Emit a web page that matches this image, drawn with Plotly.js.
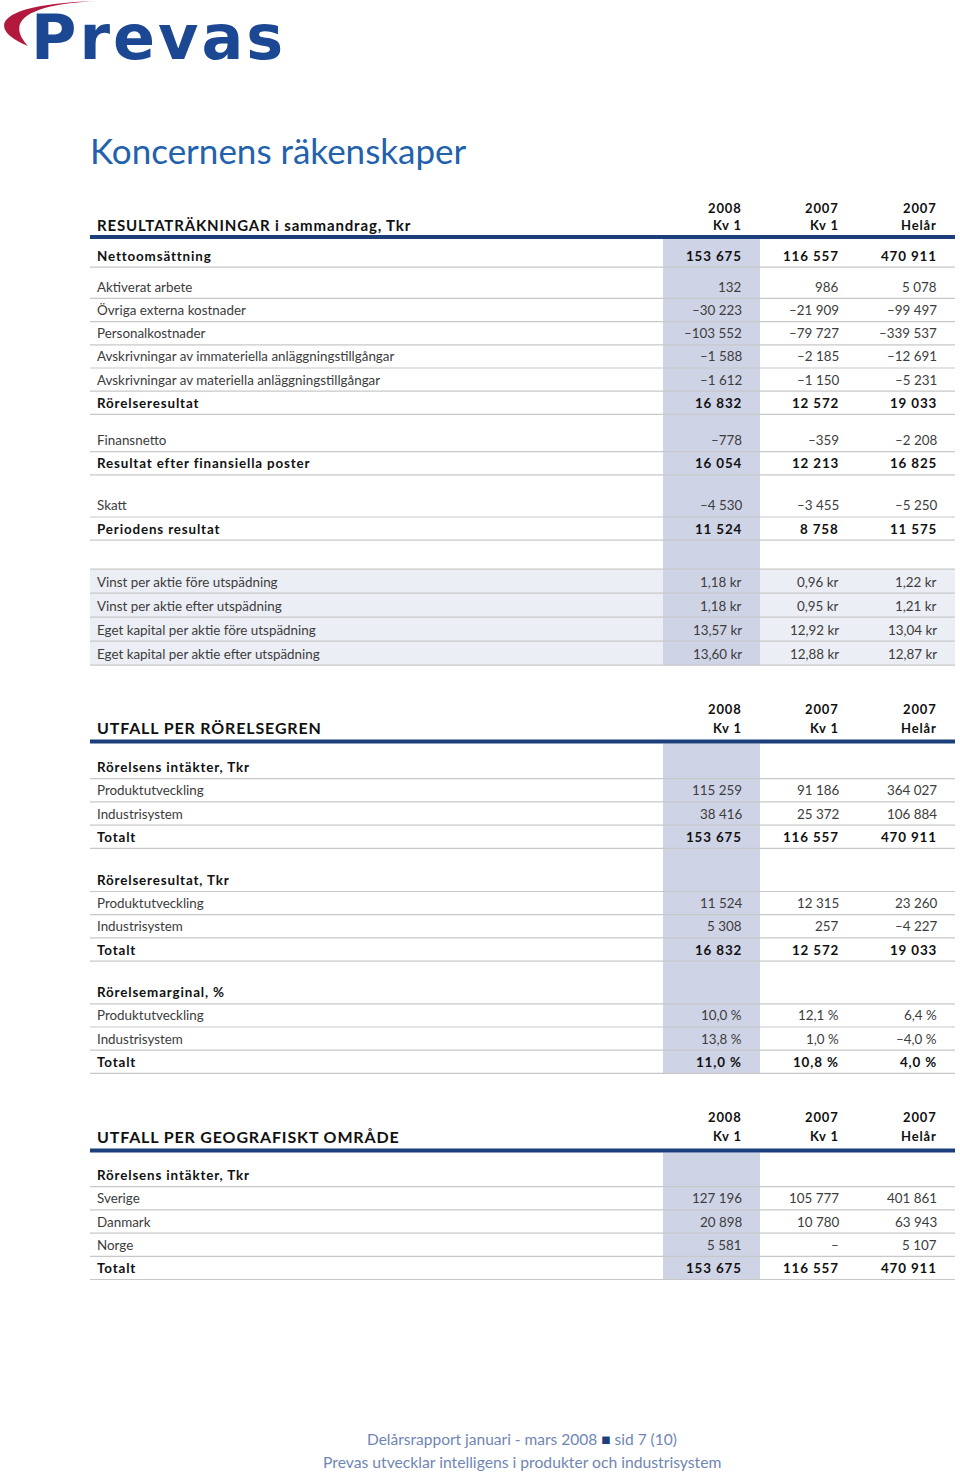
<!DOCTYPE html>
<html><head><meta charset="utf-8">
<script src="https://cdn.plot.ly/plotly-3.0.1.min.js"></script>
<style>
html,body{margin:0;padding:0;background:#fff}
#chart{width:960px;height:1472px}
text[style*="font-weight: 700"]{letter-spacing:0.85px}
text[style*="DejaVu"]{letter-spacing:3px}
</style>
</head><body><div id="chart"></div>
<script>
// ---------- DATA ----------
const colYears = ["2008", "2007", "2007"];
const colPeriods = ["Kv 1", "Kv 1", "Helår"];

const resTitle = "RESULTATRÄKNINGAR i sammandrag, Tkr";
const resLabels = ["Nettoomsättning", "Aktiverat arbete", "Övriga externa kostnader", "Personalkostnader",
  "Avskrivningar av immateriella anläggningstillgångar", "Avskrivningar av materiella anläggningstillgångar",
  "Rörelseresultat", "Finansnetto", "Resultat efter finansiella poster", "Skatt", "Periodens resultat"];
const res2008Q1 = [153675, 132, -30223, -103552, -1588, -1612, 16832, -778, 16054, -4530, 11524];
const res2007Q1 = [116557, 986, -21909, -79727, -2185, -1150, 12572, -359, 12213, -3455, 8758];
const res2007FY = [470911, 5078, -99497, -339537, -12691, -5231, 19033, -2208, 16825, -5250, 11575];
const resSubtotal = [true, false, false, false, false, false, true, false, true, false, true];

const shareLabels = ["Vinst per aktie före utspädning", "Vinst per aktie efter utspädning",
  "Eget kapital per aktie före utspädning", "Eget kapital per aktie efter utspädning"];
const share2008Q1 = [1.18, 1.18, 13.57, 13.60];
const share2007Q1 = [0.96, 0.95, 12.92, 12.88];
const share2007FY = [1.22, 1.21, 13.04, 12.87];

const segTitle = "UTFALL PER RÖRELSEGREN";
const segGroups = ["Rörelsens intäkter, Tkr", "Rörelseresultat, Tkr", "Rörelsemarginal, %"];
const segNames = ["Produktutveckling", "Industrisystem", "Totalt"];
const segRev2008Q1 = [115259, 38416, 153675];
const segRev2007Q1 = [91186, 25372, 116557];
const segRev2007FY = [364027, 106884, 470911];
const segEbit2008Q1 = [11524, 5308, 16832];
const segEbit2007Q1 = [12315, 257, 12572];
const segEbit2007FY = [23260, -4227, 19033];
const segMargin2008Q1 = [10.0, 13.8, 11.0];
const segMargin2007Q1 = [12.1, 1.0, 10.8];
const segMargin2007FY = [6.4, -4.0, 4.0];

const geoTitle = "UTFALL PER GEOGRAFISKT OMRÅDE";
const geoGroup = "Rörelsens intäkter, Tkr";
const geoNames = ["Sverige", "Danmark", "Norge", "Totalt"];
const geo2008Q1 = [127196, 20898, 5581, 153675];
const geo2007Q1 = [105777, 10780, null, 116557];
const geo2007FY = [401861, 63943, 5107, 470911];

const pageTitle = "Koncernens räkenskaper";
const logoText = "Prevas";
const footerLine1 = "Delårsrapport januari - mars 2008";
const footerPage = "sid 7 (10)";
const footerLine2 = "Prevas utvecklar intelligens i produkter och industrisystem";

// ---------- FORMATTING ----------
function grp(n) { return n.replace(/\B(?=(\d{3})+(?!\d))/g, " "); }
function fInt(v) { if (v === null || v === undefined) return "–"; return (v < 0 ? "–" : "") + grp(Math.abs(v).toString()); }
function fKr(v) { return Math.abs(v).toFixed(2).replace(".", ",") + " kr"; }
function fPct(v) { return (v < 0 ? "–" : "") + Math.abs(v).toFixed(1).replace(".", ",") + " %"; }

// ---------- STYLE / LAYOUT ----------
const FONT = "Lato, 'Open Sans', sans-serif";
const BLUE = "#1b3f7a", HL = "#cfd3e6", BAND = "#eceef5", RULE = "#c8c8c8";
const X0 = 90, X1 = 955, LX = 97, COLX = [742, 839, 937], HLX = [663, 760];
const ROW = 23.2;
const NSIZE = 13.4, BSIZE = 13.4;

const shapes = [], ann = [];
function txt(x, y, t, anchor, size, color, weight, fam) {
  ann.push({x: x, y: y, xref: "x", yref: "y", text: t, showarrow: false, xanchor: anchor, yanchor: "middle",
    borderpad: 0, borderwidth: 0,
    font: {family: fam || FONT, size: size, color: color, weight: weight || 400}});
}
function hline(y, color, w) {
  shapes.push({type: "line", xref: "x", yref: "y", x0: X0, x1: X1, y0: y, y1: y, line: {color: color, width: w}});
}
function rect(x0, x1, y0, y1, color) {
  shapes.push({type: "rect", xref: "x", yref: "y", x0: x0, x1: x1, y0: y0, y1: y1, fillcolor: color, line: {width: 0}});
}

function section(title, titleSize, thickY, hdrOff, blocks) {
  const bgShapes = [], lines = [];
  txt(LX, thickY - hdrOff[1], title, "left", titleSize, "#111", 700);
  for (let c = 0; c < 3; c++) {
    txt(COLX[c], thickY - hdrOff[0], colYears[c], "right", 13, "#111", 700);
    txt(COLX[c], thickY - hdrOff[1], colPeriods[c], "right", 13, "#111", 700);
  }
  let y = thickY + 2;
  const top = y;
  blocks.forEach(b => {
    y += b.gap;
    const rh = b.rowH || ROW;
    if (b.band) {
      bgShapes.push([y, y + rh * b.rows.length]);
      lines.push(y);
    }
    b.rows.forEach(r => {
      const bottom = y + rh;
      const cy = bottom - 11.6;
      const bold = r.kind !== "normal";
      const col = bold ? "#111" : "#3c3c3c", w = bold ? 700 : 400, sz = bold ? BSIZE : NSIZE;
      txt(LX, cy, r.label, "left", sz, col, w);
      if (r.vals) r.vals.forEach((v, c) => txt(COLX[c], cy, v, "right", sz, col, w));
      lines.push(bottom);
      y = bottom;
    });
  });
  bgShapes.forEach(s => rect(X0, X1, s[0], s[1], BAND));
  rect(HLX[0], HLX[1], top, y, HL);
  lines.forEach(l => hline(l, RULE, 1.2));
  hline(thickY, BLUE, 4);
}

// Section 1
const s1rows = resLabels.map((l, i) => ({label: l, kind: resSubtotal[i] ? "bold" : "normal",
  vals: [fInt(res2008Q1[i]), fInt(res2007Q1[i]), fInt(res2007FY[i])]}));
const s1share = shareLabels.map((l, i) => ({label: l, kind: "normal",
  vals: [fKr(share2008Q1[i]), fKr(share2007Q1[i]), fKr(share2007FY[i])]}));
section(resTitle, 15, 237, [29, 12], [
  {gap: 5, rows: s1rows.slice(0, 1)},
  {gap: 8, rows: s1rows.slice(1, 7)},
  {gap: 14, rows: s1rows.slice(7, 9)},
  {gap: 19, rows: s1rows.slice(9, 11)},
  {gap: 29, rows: s1share, band: true, rowH: 24}
]);

// Section 2
function segBlock(group, a, b, c, f) {
  return [{label: group, kind: "sub", vals: null}].concat(segNames.map((n, i) => ({
    label: n, kind: i === segNames.length - 1 ? "bold" : "normal", vals: [f(a[i]), f(b[i]), f(c[i])]})));
}
section(segTitle, 16, 741.5, [32.5, 14], [
  {gap: 12, rows: segBlock(segGroups[0], segRev2008Q1, segRev2007Q1, segRev2007FY, fInt)},
  {gap: 20, rows: segBlock(segGroups[1], segEbit2008Q1, segEbit2007Q1, segEbit2007FY, fInt)},
  {gap: 19.5, rows: segBlock(segGroups[2], segMargin2008Q1, segMargin2007Q1, segMargin2007FY, fPct)}
]);

// Section 3
const geoRows = [{label: geoGroup, kind: "sub", vals: null}].concat(geoNames.map((n, i) => ({
  label: n, kind: i === geoNames.length - 1 ? "bold" : "normal", vals: [fInt(geo2008Q1[i]), fInt(geo2007Q1[i]), fInt(geo2007FY[i])]})));
section(geoTitle, 16, 1150.5, [33.5, 14.5], [{gap: 11, rows: geoRows}]);

// Title
txt(90, 150, pageTitle, "left", 35, "#2262ad", 400);

// Logo
shapes.push({type: "path", xref: "x", yref: "y", path: "M 28 46 C -12 30, -10 4, 98 1 C 30 4, 4 20, 28 46 Z",
  fillcolor: "#b3183d", line: {width: 0}});
txt(31, 37, logoText, "left", 62, "#1b4793", 700, "'DejaVu Sans', sans-serif");

// Footer
txt(522, 1439, footerLine1 + ' <span style="color:' + BLUE + '">■</span> ' + footerPage, "center", 15.5, "#6f86b3", 400);
txt(522, 1462, footerLine2, "center", 15.7, "#6f86b3", 400);

Plotly.newPlot("chart", [{type: "scatter", x: [], y: [], hoverinfo: "skip"}], {
  width: 960, height: 1472, margin: {l: 0, r: 0, t: 0, b: 0},
  paper_bgcolor: "#fff", plot_bgcolor: "#fff", showlegend: false,
  xaxis: {range: [0, 960], visible: false, fixedrange: true},
  yaxis: {range: [1472, 0], visible: false, fixedrange: true},
  shapes: shapes, annotations: ann
}, {staticPlot: true});
</script></body></html>
